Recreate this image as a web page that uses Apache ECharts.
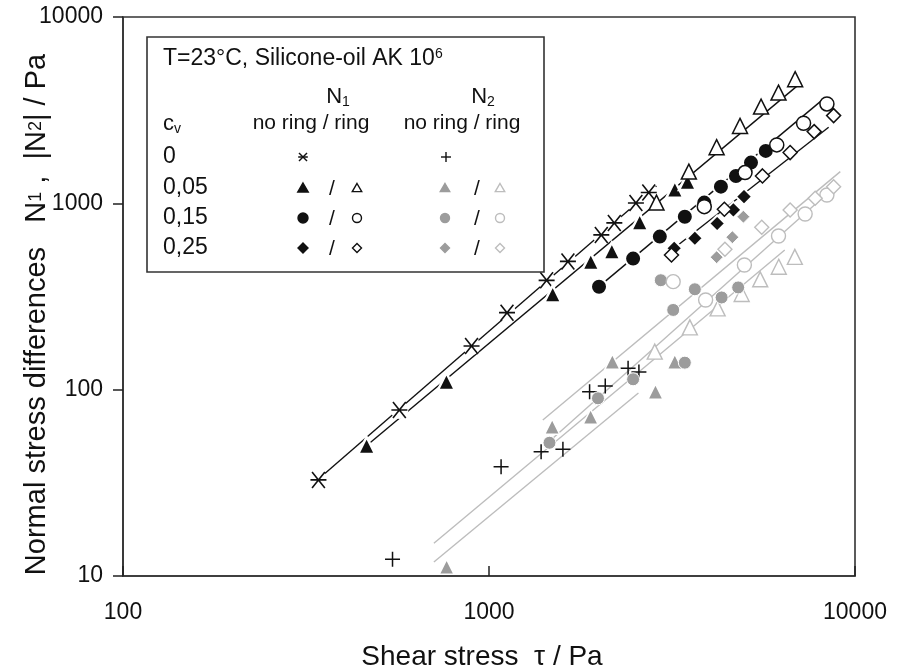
<!DOCTYPE html>
<html><head><meta charset="utf-8">
<script src="https://cdn.jsdelivr.net/npm/echarts@6/dist/echarts.min.js"></script>
<style>html,body{margin:0;padding:0;background:#fff}#c{width:904px;height:668px}</style>
</head><body><div id="c"></div>
<script>
// ---- data (shear stress tau / Pa, normal stress difference / Pa) ----
const xTicks = [100, 1000, 10000];
const yTicks = [10, 100, 1000, 10000];

const n1_c0 = [[342,32.8],[569,77.8],[896,171.6],[1120,259],[1437,386],[1643,488],[2027,677],[2200,785],[2520,1005],[2732,1144]];
const n1_c005_noring = [[463,50.2],[765,110.7],[1493,326],[1897,488],[2166,555],[2581,795],[3219,1190],[3486,1311]];
const n1_c005_ring = [[2868,1009],[3516,1480],[4187,2001],[4851,2603],[5538,3304],[6180,3929],[6862,4636]];
const n1_c015_noring = [[1998,357],[2476,505],[2929,663],[3428,848],[3874,1009],[4302,1229],[4729,1403],[5198,1654],[5704,1911]];
const n1_c015_ring = [[3874,960],[5006,1462],[6113,2059],[7236,2691],[8381,3416]];
const n1_c025_noring = [[3206,574],[3651,650],[4201,780],[4652,922],[4974,1086]];
const n1_c025_ring = [[3152,528],[4396,930],[5587,1403],[6649,1872],[7735,2426],[8741,2957]];

const n2_c0 = [[545,12.3],[1079,38.6],[1388,46.5],[1592,47.9],[1883,97.6],[2078,104.7],[2399,130.3],[2568,124.5]];
const n2_c005_noring = [[766,11.2],[1488,63.3],[1895,71.6],[2173,141.3],[2850,97.6],[3219,141.3]];
const n2_c005_ring = [[2837,160],[3538,216],[4214,273],[4902,326],[5509,391],[6191,457],[6849,516]];
const n2_c015_noring = [[1463,51.9],[1985,89.9],[2476,113.7],[2947,386.7],[3186,267.8],[3428,139.6],[3651,345.8],[4321,312.5],[4795,353.7]];
const n2_c015_ring = [[3186,380],[3907,303],[4986,467],[6180,668],[7308,877],[8381,1109]];
const n2_c025_noring = [[4187,514],[4624,658],[4955,848]];
const n2_c025_ring = [[4412,567],[5562,744],[6649,922],[7784,1065],[8741,1229]];

// fitted power-law lines (end points)
const fit_n1_c0 = [[330,31.2],[2868,1240]];
const fit_n1_c005 = [[454,48.5],[7126,4446]];
const fit_n1_c015 = [[1985,354],[8207,3635]];
const fit_n1_c025 = [[3119,551],[8472,2561]];
const fit_n2_a = [[1403,68.8],[9115,1480]];
const fit_n2_b = [[1497,55.1],[8983,1271]];
const fit_n2_c = [[707,15.0],[6428,562]];
const fit_n2_d = [[707,11.9],[2560,96]];

// ---- chart ----
const FONT = 'Liberation Sans';
const BLACK = '#111', GREY = '#9c9c9c', LGREY = '#bdbdbd';
const STAR = 'path://M-1,-1L1,1M-1,1L1,-1M-1.25,0L1.25,0';
const PLUS = 'path://M0,-1L0,1M-1,0L1,0';

function line(data, color) {
  return {type:'line', data, symbol:'none', silent:true, z:1,
    lineStyle:{color, width:1.4}};
}
function sc(data, symbol, size, fill, stroke, bw, z) {
  return {type:'scatter', data, symbol, symbolSize:size, z:z||3, silent:true,
    itemStyle:{color:fill, borderColor:stroke, borderWidth:bw, opacity:1}};
}

const series = [
  line(fit_n2_a, LGREY), line(fit_n2_b, LGREY), line(fit_n2_c, LGREY), line(fit_n2_d, LGREY),
  line(fit_n1_c0, BLACK), line(fit_n1_c005, BLACK), line(fit_n1_c015, BLACK), line(fit_n1_c025, BLACK),
  // white halos under star markers (gap in fit lines)
  sc(n1_c0, 'circle', 18, '#fff', '#fff', 0, 2),
  sc(n1_c0, STAR, 16, 'transparent', BLACK, 1.6),
  sc(n1_c005_noring, 'triangle', 17, BLACK, '#fff', 2.5),
  sc(n1_c005_ring, 'triangle', 15, '#fff', BLACK, 1.5),
  sc(n1_c015_noring, 'circle', 16, BLACK, '#fff', 2),
  sc(n1_c015_ring, 'circle', 14, '#fff', BLACK, 1.5),
  sc(n1_c025_noring, 'diamond', 16, BLACK, '#fff', 2),
  sc(n1_c025_ring, 'diamond', 14, '#fff', BLACK, 1.5),
  sc(n2_c0, PLUS, 15, 'transparent', BLACK, 1.5),
  sc(n2_c005_noring, 'triangle', 15, GREY, '#fff', 1.5),
  sc(n2_c005_ring, 'triangle', 15, '#fff', LGREY, 1.4),
  sc(n2_c015_noring, 'circle', 13, GREY, '#fff', 1),
  sc(n2_c015_ring, 'circle', 14, '#fff', LGREY, 1.4),
  sc(n2_c025_noring, 'diamond', 13, GREY, '#fff', 1),
  sc(n2_c025_ring, 'diamond', 14, '#fff', LGREY, 1.4)
];

// ---- legend drawn as graphics ----
const G = [];
const LX = 147, LY = 37, LW = 397, LH = 235;
G.push({type:'rect', shape:{x:LX, y:LY, width:LW, height:LH}, z:10,
  style:{fill:'#fff', stroke:'#333', lineWidth:1.6}});
function txt(x, y, text, size, align, rich) {
  G.push({type:'text', x, y, z:11, style:{text, fontFamily:FONT, fontSize:size, fill:'#111',
    align:align||'left', verticalAlign:'middle', rich:rich||undefined}});
}
const supRich = {sup:{fontSize:14, verticalAlign:'top', padding:[0,0,10,0], fontFamily:FONT, fill:'#111'},
                 sub:{fontSize:14, padding:[10,0,0,0], fontFamily:FONT, fill:'#111'}};
txt(163, 59, 'T=23°C, Silicone-oil AK 10{sup|6}', 23, 'left', supRich);
txt(338, 97, 'N{sub|1}', 22, 'center', supRich);
txt(483, 97, 'N{sub|2}', 22, 'center', supRich);
txt(311, 123, 'no ring / ring', 21, 'center');
txt(462, 123, 'no ring / ring', 21, 'center');
txt(163, 124, 'c{sub|v}', 22, 'left', supRich);
const rowLabels = ['0', '0,05', '0,15', '0,25'];
const rowY = [157, 188, 218, 248];
rowLabels.forEach((t, i) => txt(163, rowY[i], t, 23, 'left'));

function seg(x1, y1, x2, y2, stroke, w) {
  G.push({type:'line', z:11, shape:{x1, y1, x2, y2}, style:{stroke, lineWidth:w}});
}
function lsym(kind, cx, cy, r, fill, stroke) {
  const st = {fill, stroke, lineWidth:1.4};
  if (kind === 'tri') G.push({type:'polygon', z:11, shape:{points:[[cx,cy-r],[cx+r*1.05,cy+r*0.8],[cx-r*1.05,cy+r*0.8]]}, style:st});
  else if (kind === 'cir') G.push({type:'circle', z:11, shape:{cx, cy, r}, style:st});
  else if (kind === 'dia') G.push({type:'polygon', z:11, shape:{points:[[cx,cy-r],[cx+r,cy],[cx,cy+r],[cx-r,cy]]}, style:st});
  else if (kind === 'star') { seg(cx-r,cy-r,cx+r,cy+r,stroke,1.5); seg(cx-r,cy+r,cx+r,cy-r,stroke,1.5); seg(cx-r*1.2,cy,cx+r*1.2,cy,stroke,1.5); }
  else if (kind === 'plus') { seg(cx,cy-r,cx,cy+r,stroke,1.4); seg(cx-r,cy,cx+r,cy,stroke,1.4); }
}
lsym('star', 303, 157, 4, 'none', BLACK);
lsym('plus', 446, 157, 5, 'none', BLACK);
const kinds = ['tri', 'cir', 'dia'];
kinds.forEach((k, i) => {
  const y = rowY[i + 1];
  lsym(k, 303, y, 5, BLACK, BLACK);
  txt(332, y + 1, '/', 21, 'center');
  lsym(k, 357, y, 4.5, '#fff', BLACK);
  lsym(k, 445, y, 4.5, GREY, GREY);
  txt(477, y + 1, '/', 21, 'center');
  lsym(k, 500, y, 4.5, '#fff', LGREY);
});

const fmt = arr => v => arr.some(t => Math.abs(t - v) < 1e-6 * t) ? String(Math.round(v)) : '';
const chart = echarts.init(document.getElementById('c'), null, {renderer:'canvas'});
chart.setOption({
  animation:false,
  backgroundColor:'#fff',
  grid:{left:123, right:49, top:17, bottom:92, containLabel:false, outerBoundsMode:'none',
    show:true, borderColor:'#333', borderWidth:1.6, backgroundColor:'transparent'},
  xAxis:{type:'log', logBase:10, min:100, max:10000,
    name:'Shear stress  τ / Pa', nameLocation:'middle', nameGap:67, nameMoveOverlap:false,
    nameTextStyle:{fontFamily:FONT, fontSize:28, color:'#111', padding:[0,14,0,0]},
    axisLine:{lineStyle:{color:'#333', width:1.6}},
    axisTick:{inside:true, length:10, lineStyle:{color:'#222', width:1.5}},
    axisLabel:{fontFamily:FONT, fontSize:23, color:'#111', margin:25, formatter:fmt(xTicks)},
    splitLine:{show:false}, minorTick:{show:false}},
  yAxis:{type:'log', logBase:10, min:10, max:10000,
    name:'Normal stress differences   N{s|1} ,  |N{s|2}| / Pa', nameLocation:'middle', nameGap:72, nameRotate:90,
    nameMoveOverlap:false,
    nameTextStyle:{fontFamily:FONT, fontSize:29, color:'#111', padding:[0,0,0,-36],
      rich:{s:{fontFamily:FONT, fontSize:18, color:'#111'}}},
    axisLine:{lineStyle:{color:'#333', width:1.6}},
    axisTick:{inside:false, length:10, lineStyle:{color:'#222', width:1.5}},
    axisLabel:{fontFamily:FONT, fontSize:23, color:'#111', margin:20, formatter:fmt(yTicks)},
    splitLine:{show:false}, minorTick:{show:false}},
  series,
  graphic:G
});
</script></body></html>
